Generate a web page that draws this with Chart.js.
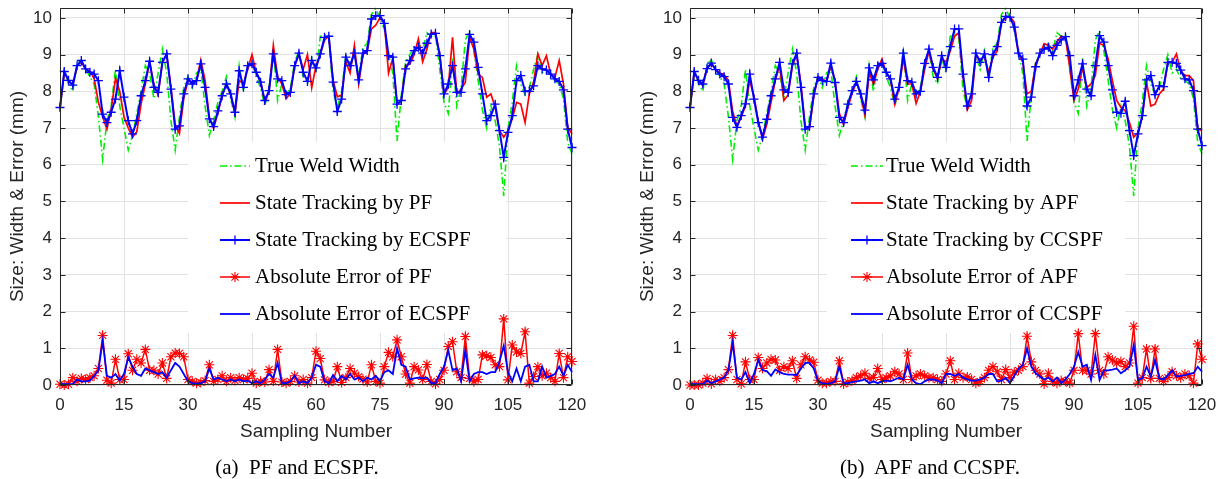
<!DOCTYPE html>
<html>
<head>
<meta charset="utf-8">
<title>Weld width tracking</title>
<script src="https://cdn.jsdelivr.net/npm/chart.js@4.4.1/dist/chart.umd.min.js"></script>
<style>
  body { margin: 0; background: #fff; }
  #page { position: relative; width: 1225px; height: 479px; overflow: hidden; }
  .panel { position: absolute; top: 0; width: 612px; height: 479px; }
  .caption { position: absolute; top: 455px; width: 300px; text-align: center;
             font: 21px "Liberation Serif", "Times New Roman", serif; color: #000; white-space: pre; }
</style>
</head>
<body>
<div id="page">
  <canvas id="chartA" class="panel" width="612" height="479" style="left:0"></canvas>
  <canvas id="chartB" class="panel" width="612" height="479" style="left:630px"></canvas>
  <div class="caption" style="left:147px">(a)  PF and ECSPF.</div>
  <div class="caption" style="left:780px">(b)  APF and CCSPF.</div>
</div>
<script>
// Sampling numbers and axis ticks
const sampleNo = [...Array(121).keys()];
const xTickValues = [0, 15, 30, 45, 60, 75, 90, 105, 120];
const yTickValues = [0, 1, 2, 3, 4, 5, 6, 7, 8, 9, 10];

// True weld width (same in both panels)
const trueWidth = [
  7.5, 8.5, 8.2, 8.0, 8.75, 8.85, 8.6, 8.4, 8.2, 7.3,
  6.15, 7.2, 7.6, 8.6, 7.6, 7.0, 6.4, 6.8, 7.4, 8.0,
  8.7, 8.5, 7.8, 8.5, 9.15, 8.5, 7.2, 6.4, 7.3, 8.1,
  8.4, 8.1, 8.5, 8.6, 7.6, 6.8, 7.2, 7.7, 8.0, 8.4,
  7.8, 7.3, 8.7, 8.0, 8.7, 8.8, 8.4, 8.1, 7.6, 8.1,
  9.15, 7.75, 8.2, 7.9, 8.1, 8.8, 9.1, 8.4, 8.2, 8.9,
  8.5, 9.5, 9.55, 9.45, 8.0, 7.55, 8.0, 9.0, 8.6, 9.1,
  8.4, 9.2, 9.3, 10.1, 10.25, 10.0, 9.7, 9.0, 8.5, 6.65,
  7.9, 8.8, 9.0, 9.2, 9.3, 9.1, 9.6, 9.5, 9.55, 8.6,
  7.7, 7.4, 8.9, 7.6, 8.1, 9.4, 9.65, 9.1, 8.3, 7.5,
  7.0, 7.6, 7.2, 6.5, 5.15, 7.0, 7.7, 8.7, 8.2, 7.9,
  8.1, 8.6, 9.0, 8.5, 8.6, 8.35, 8.3, 8.2, 7.8, 6.6,
  6.3
];

// Panel (a): PF and ECSPF
const pfTrack = [
  7.55, 8.5, 8.3, 8.15, 8.7, 8.8, 8.6, 8.55, 8.35, 7.7,
  7.3, 6.97, 7.5, 8.35, 8.0, 7.3, 7.0, 6.75, 6.9, 7.65,
  8.2, 8.8, 8.2, 7.9, 8.8, 9.0, 8.1, 7.1, 6.85, 7.8,
  8.3, 8.25, 8.3, 8.85, 8.3, 7.3, 7.0, 7.4, 7.9, 8.2,
  7.9, 7.4, 8.3, 8.2, 8.6, 9.0, 8.5, 8.3, 7.7, 8.0,
  9.25, 8.4, 8.2, 7.8, 7.95, 8.7, 9.0, 8.6, 9.0, 8.1,
  8.7, 9.0, 9.4, 9.5, 8.3, 7.85, 7.9, 8.8, 8.5, 9.25,
  8.2, 9.0, 9.1, 9.7, 9.8, 10.0, 9.9, 8.5, 8.9, 7.65,
  7.75, 8.7, 8.75, 9.0, 9.43, 8.8, 9.15, 9.6, 9.6, 9.0,
  7.93, 8.1, 9.47, 7.93, 8.06, 8.25, 9.47, 9.15, 8.47, 8.38,
  7.84, 7.93, 7.56, 6.93, 6.75, 6.93, 7.25, 7.7, 7.65, 7.15,
  7.93, 8.25, 9.02, 8.7, 8.97, 8.47, 8.38, 8.84, 8.2, 7.02,
  6.84
];
const ecspfTrack = [
  7.56, 8.54, 8.3, 8.17, 8.7, 8.84, 8.61, 8.52, 8.47, 8.29,
  7.38, 7.15, 7.43, 7.79, 8.56, 7.84, 7.2, 6.84, 7.2, 7.88,
  8.29, 8.82, 8.11, 7.97, 8.79, 9.02, 8.06, 6.97, 7.06, 7.93,
  8.34, 8.2, 8.29, 8.75, 8.11, 7.25, 7.04, 7.47, 7.88, 8.2,
  7.93, 7.43, 8.56, 8.11, 8.7, 8.75, 8.52, 8.25, 7.75, 8.02,
  9.02, 8.34, 8.29, 7.91, 7.97, 8.7, 9.04, 8.52, 8.27, 8.84,
  8.64, 9.02, 9.47, 9.5, 8.25, 7.45, 7.79, 8.93, 8.7, 9.04,
  8.31, 9.04, 9.11, 9.97, 10.06, 10.06, 9.85, 8.97, 8.93, 7.65,
  7.75, 8.61, 8.84, 9.11, 9.2, 9.04, 9.31, 9.56, 9.58, 8.97,
  7.93, 8.2, 8.7, 7.97, 7.97, 8.61, 9.55, 9.34, 8.65, 7.93,
  7.2, 7.34, 7.65, 6.93, 6.2, 6.88, 7.34, 8.29, 8.43, 8.0,
  8.0, 8.15, 8.7, 8.61, 8.58, 8.47, 8.34, 8.27, 8.04, 6.97,
  6.47
];
const pfError = [
  0.02, 0.0, 0.02, 0.2, 0.1, 0.18, 0.15, 0.2, 0.25, 0.45,
  1.35, 0.13, 0.05, 0.7, 0.15, 0.15, 0.85, 0.4, 0.7, 0.6,
  0.97, 0.4, 0.4, 0.3, 0.6, 0.18, 0.77, 0.87, 0.86, 0.77,
  0.15, 0.1, 0.05, 0.07, 0.12, 0.55, 0.1, 0.15, 0.25, 0.1,
  0.2, 0.12, 0.2, 0.15, 0.18, 0.32, 0.05, 0.1, 0.08, 0.42,
  0.1, 0.97, 0.08, 0.05, 0.1, 0.25, 0.08, 0.15, 0.05, 0.2,
  0.92, 0.72, 0.14, 0.07, 0.1, 0.5, 0.07, 0.2, 0.45, 0.32,
  0.23, 0.16, 0.08, 0.55, 0.1, 0.05, 0.5, 0.89, 0.77, 1.23,
  0.77, 0.3, 0.05, 0.5, 0.41, 0.15, 0.56, 0.1, 0.03, 0.15,
  0.4, 1.05, 1.18, 0.36, 0.2, 1.32, 0.18, 0.09, 0.15, 0.82,
  0.8, 0.75, 0.55, 0.5, 1.8, 0.14, 1.09, 0.9, 0.86, 1.45,
  0.05, 0.23, 0.5, 0.25, 0.32, 0.2, 0.1, 0.86, 0.2, 0.77,
  0.64
];
const ecspfError = [
  0.02, 0.02, 0.02, 0.03, 0.15, 0.1, 0.1, 0.12, 0.25, 0.4,
  1.2, 0.25, 0.2, 0.3, 0.12, 0.3, 0.75, 0.5, 0.3, 0.25,
  0.45, 0.4, 0.35, 0.3, 0.35, 0.2, 0.4, 0.6, 0.5, 0.3,
  0.1, 0.05, 0.04, 0.05, 0.1, 0.45, 0.15, 0.2, 0.15, 0.1,
  0.15, 0.1, 0.15, 0.1, 0.12, 0.05, 0.1, 0.05, 0.15, 0.3,
  0.2, 0.6, 0.05, 0.05, 0.1, 0.25, 0.05, 0.1, 0.05, 0.2,
  0.55, 0.5, 0.1, 0.05, 0.27, 0.1, 0.25, 0.15, 0.3, 0.15,
  0.2, 0.1, 0.2, 0.15, 0.25, 0.1, 0.35, 0.4, 0.3, 1.0,
  0.55, 0.5, 0.15, 0.18, 0.2, 0.18, 0.2, 0.05, 0.05, 0.3,
  0.5, 0.95, 0.4, 0.45, 0.1, 0.95, 0.1, 0.3, 0.35, 0.35,
  0.3, 0.35, 0.35, 0.64, 1.07, 0.35, 0.1, 0.45, 0.1, 0.5,
  0.55, 0.1, 0.1, 0.5, 0.2, 0.25, 0.3, 0.5, 0.25, 0.55,
  0.35
];

// Panel (b): APF and CCSPF
const apfTrack = [
  7.55, 8.5, 8.3, 8.15, 8.65, 8.75, 8.6, 8.5, 8.45, 8.3,
  7.45, 7.05, 7.3, 7.6, 8.3, 7.85, 7.2, 6.7, 7.1, 7.7,
  8.3, 8.7, 7.75, 7.9, 8.7, 9.0, 8.2, 7.05, 7.0, 7.85,
  8.4, 8.35, 8.25, 8.7, 8.3, 7.4, 7.1, 7.55, 7.95, 8.25,
  7.9, 7.35, 8.5, 8.2, 8.6, 8.88, 8.5, 8.3, 7.65, 8.1,
  8.9, 8.2, 8.2, 7.67, 8.0, 8.6, 9.1, 8.6, 8.34, 8.88,
  8.8, 9.1, 9.5, 9.6, 8.4, 7.5, 7.75, 9.0, 8.84, 8.95,
  8.52, 8.93, 9.1, 9.88, 10.0, 10.04, 9.88, 9.0, 8.8, 7.93,
  8.0, 8.75, 9.0, 9.3, 9.25, 9.15, 9.35, 9.5, 9.47, 8.65,
  7.75, 8.06, 8.65, 8.1, 8.2, 8.43, 9.31, 9.25, 8.88, 8.29,
  7.75, 7.56, 7.47, 7.15, 6.75, 6.88, 7.3, 8.25, 7.6, 7.65,
  7.93, 8.06, 8.79, 8.79, 9.02, 8.56, 8.43, 8.43, 8.29, 6.97,
  6.93
];
const ccspfTrack = [
  7.56, 8.54, 8.3, 8.2, 8.62, 8.77, 8.59, 8.47, 8.4, 8.2,
  7.29, 7.02, 7.34, 7.66, 8.47, 7.79, 7.15, 6.75, 7.24, 7.88,
  8.34, 8.79, 8.04, 7.97, 8.75, 9.04, 8.11, 6.97, 7.04, 7.93,
  8.38, 8.29, 8.27, 8.77, 8.24, 7.29, 7.15, 7.65, 8.02, 8.27,
  7.93, 7.49, 8.64, 8.31, 8.7, 8.76, 8.52, 8.34, 7.79, 8.11,
  9.04, 8.29, 8.25, 7.93, 8.0, 8.76, 9.15, 8.65, 8.38, 8.97,
  8.65, 9.22, 9.7, 9.7, 8.47, 7.6, 7.93, 9.04, 8.79, 9.02,
  8.38, 9.0, 9.22, 9.88, 10.04, 10.02, 9.75, 9.04, 8.88, 7.6,
  7.84, 8.67, 9.04, 9.15, 9.2, 8.97, 9.25, 9.4, 9.49, 8.97,
  7.88, 8.31, 8.75, 8.06, 7.88, 8.7, 9.52, 9.34, 8.7, 8.04,
  7.43, 7.4, 7.73, 6.93, 6.25, 6.84, 7.34, 8.31, 8.43, 7.91,
  8.15, 8.13, 8.79, 8.79, 8.76, 8.58, 8.34, 8.31, 8.02, 6.97,
  6.52
];
const apfError = [
  0.0, 0.0, 0.0, 0.05, 0.18, 0.03, 0.15, 0.1, 0.2, 0.42,
  1.35, 0.15, 0.03, 0.63, 0.15, 0.15, 0.75, 0.45, 0.6, 0.7,
  0.68, 0.4, 0.5, 0.45, 0.66, 0.18, 0.55, 0.77, 0.68, 0.62,
  0.13, 0.05, 0.05, 0.1, 0.1, 0.66, 0.03, 0.08, 0.12, 0.2,
  0.25, 0.32, 0.18, 0.2, 0.45, 0.15, 0.2, 0.25, 0.36, 0.3,
  0.15, 0.87, 0.15, 0.25, 0.3, 0.25, 0.2, 0.2, 0.15, 0.1,
  0.3, 0.66, 0.15, 0.32, 0.2, 0.22, 0.15, 0.05, 0.1, 0.2,
  0.4, 0.5, 0.36, 0.15, 0.42, 0.2, 0.35, 0.4, 0.5, 1.33,
  0.63, 0.4, 0.3, 0.03, 0.32, 0.1, 0.05, 0.12, 0.1, 0.05,
  0.4, 1.4, 0.4, 0.4, 0.3, 1.4, 0.4, 0.3, 0.77, 0.68,
  0.6, 0.64, 0.5, 0.6, 1.6, 0.05, 0.2, 0.98, 0.18, 0.98,
  0.18, 0.1, 0.2, 0.36, 0.25, 0.2, 0.3, 0.25, 0.05, 1.12,
  0.7
];
const ccspfError = [
  0.02, 0.02, 0.02, 0.02, 0.12, 0.05, 0.1, 0.15, 0.2, 0.4,
  1.15, 0.2, 0.15, 0.35, 0.05, 0.3, 0.68, 0.4, 0.38, 0.25,
  0.42, 0.35, 0.3, 0.28, 0.28, 0.27, 0.45, 0.6, 0.6, 0.45,
  0.1, 0.05, 0.03, 0.05, 0.1, 0.5, 0.05, 0.05, 0.08, 0.1,
  0.12, 0.15, 0.05, 0.1, 0.05, 0.1, 0.12, 0.1, 0.15, 0.2,
  0.15, 0.55, 0.15, 0.05, 0.02, 0.1, 0.15, 0.15, 0.12, 0.05,
  0.3, 0.3, 0.25, 0.3, 0.2, 0.15, 0.12, 0.12, 0.15, 0.2,
  0.3, 0.3, 0.1, 0.12, 0.2, 0.05, 0.25, 0.45, 0.55, 1.0,
  0.5, 0.32, 0.23, 0.15, 0.2, 0.1, 0.2, 0.05, 0.15, 0.3,
  0.5, 0.9, 0.5, 0.55, 0.14, 0.82, 0.14, 0.4, 0.4, 0.42,
  0.45, 0.32, 0.4, 0.5, 1.09, 0.14, 0.18, 0.5, 0.23, 0.68,
  0.18, 0.15, 0.27, 0.4, 0.23, 0.25, 0.27, 0.3, 0.32, 0.5,
  0.36
];

const SANS = '"Liberation Sans", Arial, Helvetica, sans-serif';
const SERIF = '"Liberation Serif", "Times New Roman", serif';
const AXIS_COLOR = '#262626';

function toPoints(values) {
  return values.map((v, i) => ({ x: sampleNo[i], y: v }));
}

// small + and * markers, used for the legend samples
function drawMarker(ctx, style, x, y, r) {
  ctx.beginPath();
  ctx.moveTo(x - r, y); ctx.lineTo(x + r, y);
  ctx.moveTo(x, y - r); ctx.lineTo(x, y + r);
  if (style === 'star') {
    const d = r * Math.SQRT1_2;
    ctx.moveTo(x - d, y - d); ctx.lineTo(x + d, y + d);
    ctx.moveTo(x - d, y + d); ctx.lineTo(x + d, y - d);
  }
  ctx.stroke();
}

// axes box with inward tick marks, like MATLAB
const framePlugin = {
  id: 'frame',
  afterDatasetsDraw(chart) {
    const { ctx, chartArea: a, scales } = chart;
    const L = Math.round(a.left) + 0.5, R = Math.round(a.right) - 0.5;
    const T = Math.round(a.top) + 0.5, B = Math.round(a.bottom) - 0.5;
    ctx.save();
    ctx.strokeStyle = AXIS_COLOR;
    ctx.lineWidth = 1;
    ctx.beginPath();
    ctx.rect(L, T, R - L, B - T);
    scales.x.ticks.forEach(t => {
      const px = Math.round(scales.x.getPixelForValue(t.value)) + 0.5;
      ctx.moveTo(px, B); ctx.lineTo(px, B - 5);
      ctx.moveTo(px, T); ctx.lineTo(px, T + 5);
    });
    scales.y.ticks.forEach(t => {
      const py = Math.round(scales.y.getPixelForValue(t.value)) + 0.5;
      ctx.moveTo(L, py); ctx.lineTo(L + 5, py);
      ctx.moveTo(R, py); ctx.lineTo(R - 5, py);
    });
    ctx.stroke();
    ctx.restore();
  }
};

// legend inside the axes: white box over the grid, then samples and labels
const boxLegendPlugin = {
  id: 'boxLegend',
  beforeDatasetsDraw(chart, args, opts) {
    const ctx = chart.ctx;
    ctx.save();
    ctx.fillStyle = '#fff';
    ctx.fillRect(opts.left, opts.top, opts.right - opts.left, opts.bottom - opts.top);
    ctx.restore();
  },
  afterDraw(chart, args, opts) {
    const ctx = chart.ctx;
    ctx.save();
    chart.data.datasets.forEach((ds, k) => {
      const y = opts.rows[k];
      ctx.strokeStyle = ds.borderColor;
      ctx.lineWidth = ds.borderWidth;
      ctx.setLineDash(ds.borderDash || []);
      ctx.beginPath();
      ctx.moveTo(opts.lineX0, y);
      ctx.lineTo(opts.lineX1, y);
      ctx.stroke();
      ctx.setLineDash([]);
      if (ds.pointRadius > 0) {
        ctx.lineWidth = ds.pointBorderWidth;
        drawMarker(ctx, ds.pointStyle, (opts.lineX0 + opts.lineX1) / 2, y, ds.pointRadius);
      }
      ctx.fillStyle = '#000';
      ctx.font = '21px ' + SERIF;
      ctx.textBaseline = 'middle';
      ctx.textAlign = 'left';
      ctx.fillText(ds.label, opts.textX, y);
    });
    ctx.restore();
  }
};

function makePanel(canvasId, names, track, trackNew, err, errNew, legendPos) {
  const datasets = [
    { label: 'True Weld Width', data: toPoints(trueWidth), borderColor: '#00ee00',
      borderWidth: 1.6, borderDash: [7, 3, 1.5, 3], pointRadius: 0, order: 5 },
    { label: 'State Tracking by ' + names[0], data: toPoints(track), borderColor: '#ff0000',
      borderWidth: 1.7, pointRadius: 0, order: 4 },
    { label: 'State Tracking by ' + names[1], data: toPoints(trackNew), borderColor: '#0000ff',
      borderWidth: 2, pointRadius: 4.5, pointStyle: 'cross', pointBorderWidth: 1.3,
      pointBorderColor: '#0000ff', order: 3 },
    { label: 'Absolute Error of ' + names[0], data: toPoints(err), borderColor: '#ff0000',
      borderWidth: 1.5, pointRadius: 5, pointStyle: 'star', pointBorderWidth: 1.1,
      pointBorderColor: '#ff0000', order: 2 },
    { label: 'Absolute Error of ' + names[1], data: toPoints(errNew), borderColor: '#0000ff',
      borderWidth: 1.8, pointRadius: 0, order: 1 }
  ];
  datasets.forEach(ds => { ds.tension = 0; ds.fill = false; ds.clip = false; });

  return new Chart(document.getElementById(canvasId), {
    type: 'line',
    data: { datasets },
    options: {
      responsive: false,
      animation: false,
      events: [],
      layout: { autoPadding: false, padding: { left: 0, right: 40, top: 8, bottom: 36 } },
      scales: {
        x: {
          type: 'linear', min: 0, max: 120,
          afterBuildTicks: s => { s.ticks = xTickValues.map(v => ({ value: v })); },
          afterFit: s => { s.height = 58; s.paddingLeft = 0; s.paddingRight = 0; },
          grid: { color: '#e2e2e2', drawTicks: false },
          border: { display: false },
          ticks: { color: AXIS_COLOR, font: { family: SANS, size: 17 }, padding: 10,
                   maxRotation: 0, autoSkip: false },
          title: { display: true, text: 'Sampling Number', color: AXIS_COLOR,
                   font: { family: SANS, size: 19 }, padding: { top: 0, bottom: 0 } }
        },
        y: {
          type: 'linear', min: 0, max: 10.27,
          afterBuildTicks: s => { s.ticks = yTickValues.map(v => ({ value: v })); },
          afterFit: s => { s.width = 60; s.paddingTop = 0; s.paddingBottom = 0; },
          grid: { color: '#e2e2e2', drawTicks: false },
          border: { display: false },
          ticks: { color: AXIS_COLOR, font: { family: SANS, size: 17 }, padding: 8 },
          title: { display: true, text: 'Size: Width & Error (mm)', color: AXIS_COLOR,
                   font: { family: SANS, size: 19 }, padding: { top: 6, bottom: 0 } }
        }
      },
      plugins: {
        legend: { display: false },
        tooltip: { enabled: false },
        boxLegend: legendPos
      }
    },
    plugins: [boxLegendPlugin, framePlugin]
  });
}

const legendRows = [166, 203, 240, 277, 314];

makePanel('chartA', ['PF', 'ECSPF'], pfTrack, ecspfTrack, pfError, ecspfError,
  { left: 188, right: 506, top: 142, bottom: 333, lineX0: 220, lineX1: 250, textX: 255, rows: legendRows });

makePanel('chartB', ['APF', 'CCSPF'], apfTrack, ccspfTrack, apfError, ccspfError,
  { left: 197, right: 495, top: 142, bottom: 333, lineX0: 221, lineX1: 253, textX: 256, rows: legendRows });
</script>
</body>
</html>
